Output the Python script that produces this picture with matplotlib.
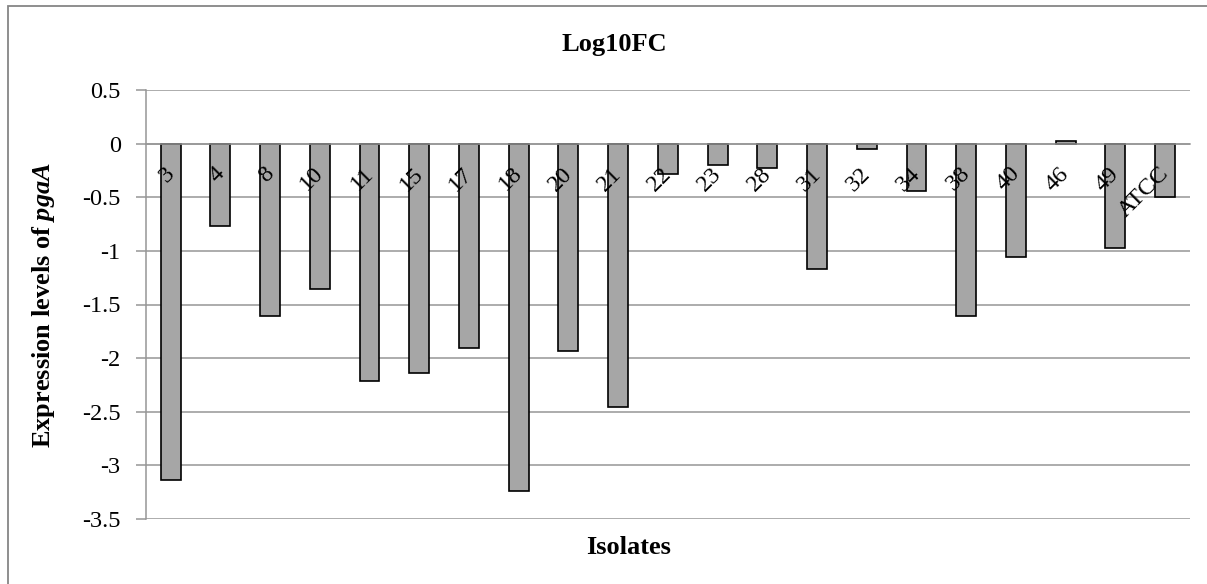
import matplotlib
matplotlib.use("Agg")
import matplotlib.pyplot as plt
import matplotlib.patches as mpatches
import matplotlib.transforms as mtransforms
import numpy as np

# data
isolates = ["3", "4", "8", "10", "11", "15", "17", "18", "20", "21", "22",
            "23", "28", "31", "32", "34", "38", "40", "46", "49", "ATCC"]
log10fc = [-3.14, -0.77, -1.61, -1.36, -2.21, -2.14, -1.91, -3.24, -1.93, -2.46, -0.28,
           -0.20, -0.23, -1.17, -0.05, -0.44, -1.61, -1.06, 0.02, -0.97, -0.50]
yticks = [0.5, 0, -0.5, -1, -1.5, -2, -2.5, -3, -3.5]
ytick_labels = ["0.5", "0", "-0.5", "-1", "-1.5", "-2", "-2.5", "-3", "-3.5"]

plt.rcParams["font.family"] = ["Liberation Serif", "DejaVu Serif"]
plt.rcParams["mathtext.fontset"] = "custom"
plt.rcParams["mathtext.it"] = "Liberation Serif:italic:bold"
plt.rcParams["mathtext.rm"] = "Liberation Serif:bold"

W, H = 1207, 584
fig = plt.figure(figsize=(W / 100, H / 100), dpi=100)
fig.patch.set_facecolor("white")

# plot area in pixels: x 145.7..1190, y 90..519 (from top)
ax = fig.add_axes([145.7 / W, 1 - 519 / H, (1190 - 145.7) / W, (519 - 90) / H])

grid_c = "#969696"
x = np.arange(len(isolates))
ax.bar(x, log10fc, width=0.4, color="#A6A6A6", edgecolor="black", linewidth=1.2, zorder=2)

ax.set_xlim(-0.5, len(isolates) - 0.5)
ax.set_ylim(-3.5, 0.5)
ax.set_yticks(yticks)
ax.set_yticklabels(ytick_labels)
ax.yaxis.grid(True, color=grid_c, linewidth=1.1)
ax.set_axisbelow(True)
# category labels are drawn on top of the bars
ax.xaxis.set_zorder(5)

# category axis sits on the zero line like in Excel
ax.spines["bottom"].set_position(("data", 0))
ax.spines["bottom"].set_color(grid_c)
ax.spines["bottom"].set_linewidth(1.1)
ax.spines["left"].set_color(grid_c)
ax.spines["left"].set_linewidth(1.1)
ax.spines["top"].set_visible(False)
ax.spines["right"].set_visible(False)

ax.set_xticks(x)
ax.set_xticklabels(isolates, rotation=45, ha="right", va="top", fontsize=17.5)
ax.tick_params(axis="x", length=0, pad=14)
ax.tick_params(axis="y", length=7, width=1.1, color=grid_c, pad=11, labelsize=17.5)
shift = mtransforms.ScaledTranslation(8 / 100, 0, fig.dpi_scale_trans)
for lbl in ax.get_xticklabels():
    lbl.set_transform(lbl.get_transform() + shift)

# titles / axis labels
fig.text(614 / W, 1 - 45 / H, "Log10FC", ha="center", va="center",
         fontsize=19, fontweight="bold")
fig.text(629 / W, 1 - 548 / H, "Isolates", ha="center", va="center",
         fontsize=19, fontweight="bold")
fig.text(44 / W, 1 - 305 / H, r"Expression levels of $pgaA$", rotation=90,
         ha="center", va="center", fontsize=19, fontweight="bold")

# chart area border (right/bottom edges fall outside the crop)
fig.add_artist(mpatches.Rectangle((8 / W, -0.1), 1.2, (H - 6) / H + 0.1,
                                  transform=fig.transFigure, fill=False,
                                  edgecolor="#868686", linewidth=1.3))

fig.savefig("out.png", dpi=100, facecolor="white")
plt.close(fig)
